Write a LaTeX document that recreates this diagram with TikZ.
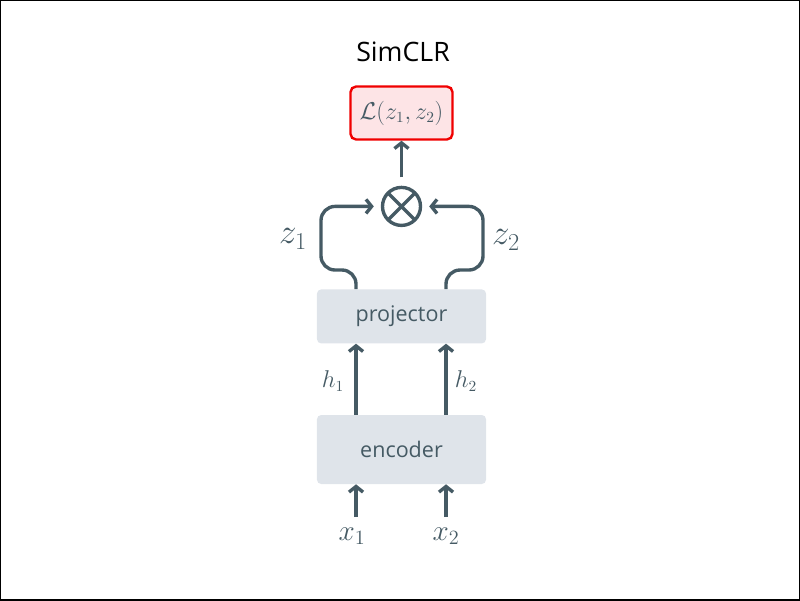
\documentclass[tikz,border=0pt]{standalone}
\usepackage{amsmath}
\usepackage{fontspec}
\setmainfont{Open Sans}
\usetikzlibrary{positioning,arrows.meta}
\definecolor{slate}{HTML}{455A64}
\definecolor{boxgray}{HTML}{DFE4EA}
\definecolor{losspink}{HTML}{FDE4E6}
\definecolor{lossred}{HTML}{F00000}
\tikzset{
  block/.style={fill=boxgray, rounded corners=3pt, minimum width=4.225cm,
    text=slate, font=\fontsize{15.3}{18}\selectfont},
  link/.style={draw=slate, line width=2.4pt, -{Straight Barb[length=4pt,width=10pt]}},
  mathlabel/.style={text=slate, inner sep=0pt},
}

\begin{document}
\begin{tikzpicture}[x=0.025cm, y=-0.025cm]
\useasboundingbox (0,0) rectangle (800,600);
\draw[line width=1.5pt] (0,0) rectangle (800,600);

\node[block, minimum height=1.725cm] (enc) at (401.5,449.5) {encoder};
\node[block, minimum height=1.35cm, above=1.775cm of enc] (proj) {projector};
\node[circle, draw=slate, line width=2.4pt, minimum size=0.95cm, above=1.55cm of proj,
  path picture={\draw[slate, line width=2.4pt]
    (path picture bounding box.north west) -- (path picture bounding box.south east)
    (path picture bounding box.north east) -- (path picture bounding box.south west);}] (mul) {};
\node[draw=lossred, fill=losspink, line width=1.7pt, rounded corners=4pt,
  minimum width=2.55cm, minimum height=1.325cm, above=1.125cm of mul,
  text=slate, font=\fontsize{16}{18}\selectfont] (loss) {$\mathcal{L}(z_1, z_2)$};
\node[font=\fontsize{19}{22}\selectfont] (title) at (403,52) {SimCLR};

% columns and bends
\coordinate (c1) at (356,0);
\coordinate (c2) at (446,0);
\coordinate (in1) at (356,517);
\coordinate (in2) at (446,517);
\coordinate (z1bend) at (321,270);
\coordinate (z2bend) at (483,270);

% inputs
\node[mathlabel, font=\fontsize{20}{24}\selectfont] (x1) at (352,536) {$x_1$};
\node[mathlabel, font=\fontsize{20}{24}\selectfont] (x2) at (446,536) {$x_2$};
\draw[link] (in1) -- (in1 |- enc.south);
\draw[link] (in2) -- (in2 |- enc.south);

% encoder to projector
\draw[link] (enc.north -| c1) -- (proj.south -| c1);
\draw[link] (enc.north -| c2) -- (proj.south -| c2);
\node[mathlabel, font=\fontsize{16}{18}\selectfont] (h1) at (333,381) {$h_1$};
\node[mathlabel, font=\fontsize{16}{18}\selectfont] (h2) at (466,381) {$h_2$};

% projector to product
\draw[link, rounded corners=0.35cm, shorten >=5pt] (proj.north -| c1) |- (z1bend) |- (mul.west);
\draw[link, rounded corners=0.35cm, shorten >=5pt] (proj.north -| c2) |- (z2bend) |- (mul.east);
\node[mathlabel, font=\fontsize{25}{30}\selectfont] (z1) at (293,239) {$z_1$};
\node[mathlabel, font=\fontsize{25}{30}\selectfont] (z2) at (506,240) {$z_2$};

% product to loss
\draw[link, shorten <=6pt] (mul.north) -- (loss.south);
\end{tikzpicture}
\end{document}
